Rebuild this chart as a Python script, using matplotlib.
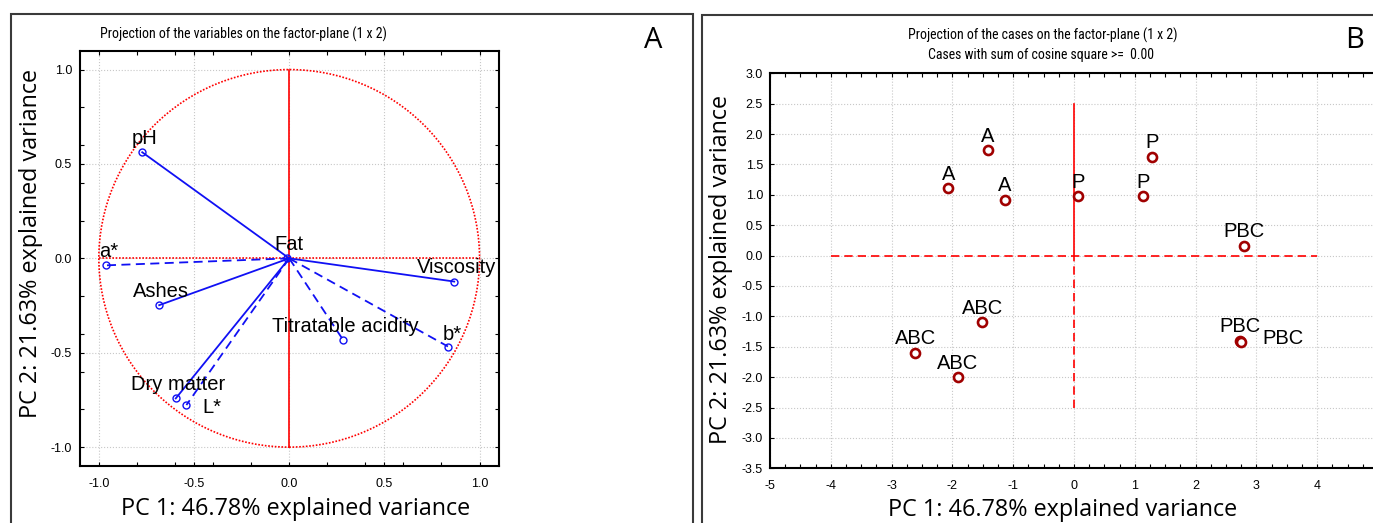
import numpy as np
import matplotlib

matplotlib.use("Agg")
import matplotlib.pyplot as plt
from matplotlib import font_manager
from matplotlib.patches import Circle, Rectangle
from matplotlib.ticker import MultipleLocator, FormatStrFormatter

# Factor coordinates of the variables (PC1, PC2)
var_names = ["pH", "a*", "Fat", "Ashes", "Dry matter", "L*",
             "Titratable acidity", "Viscosity", "b*"]
var_pc1 = [-0.772, -0.960, -0.010, -0.683, -0.596, -0.540, 0.285, 0.867, 0.834]
var_pc2 = [0.562, -0.037, 0.000, -0.248, -0.742, -0.777, -0.435, -0.123, -0.467]
var_dashed = [False, True, False, False, False, True, True, False, True]

# Factor scores of the cases
case_names = ["A", "A", "A", "P", "P", "P", "PBC", "PBC", "PBC", "ABC", "ABC", "ABC"]
case_pc1 = [-1.42, -2.07, -1.14, 0.06, 1.29, 1.14, 2.80, 2.73, 2.75, -1.51, -2.61, -1.91]
case_pc2 = [1.73, 1.11, 0.92, 0.98, 1.63, 0.98, 0.16, -1.40, -1.42, -1.10, -1.60, -2.00]

x_title = "PC 1: 46.78% explained variance"
y_title = "PC 2: 21.63% explained variance"

available = {f.name for f in font_manager.fontManager.ttflist}
ARIAL = "Liberation Sans"
LABEL = "Open Sans" if "Open Sans" in available else "DejaVu Sans"
NARROW, TITLE_SIZE = ARIAL, 8.9
for cand in ["Liberation Sans Narrow", "Arial Narrow", "Roboto Condensed"]:
    if cand in available:
        NARROW, TITLE_SIZE = cand, 10
        break

plt.rcParams["font.family"] = [ARIAL, "DejaVu Sans"]
plt.rcParams["axes.unicode_minus"] = False

BLUE = "#1010f4"
DARKRED = "#a00000"
GRID = "#c8c8c8"

W, H = 1373, 523
fig = plt.figure(figsize=(W / 100, H / 100), dpi=100)

# panel frames
fig.add_artist(Rectangle((11 / W, -0.05), (693 - 11) / W, 1.05 - 14 / H,
                         transform=fig.transFigure, fill=False,
                         ec="#3a3a3a", lw=1.5))
fig.add_artist(Rectangle((702 / W, -0.05), 1.1, 1.05 - 15 / H,
                         transform=fig.transFigure, fill=False,
                         ec="#3a3a3a", lw=1.5))


def style_axes(ax, xpad, ypad):
    ax.grid(True, color=GRID, ls=":", lw=0.8)
    ax.set_axisbelow(True)
    for sp in ax.spines.values():
        sp.set_linewidth(1.5)
    ax.tick_params(which="both", direction="in", top=True, right=True,
                   length=3, width=0.8, labelsize=9)
    ax.tick_params(axis="x", pad=xpad)
    ax.tick_params(axis="y", pad=ypad)


# ---- A: variables on the factor plane
ax1 = fig.add_axes([79.8 / W, 1 - 466 / H, (498.6 - 79.8) / W, (466 - 50.7) / H])
ax1.set_xlim(-1.1, 1.1)
ax1.set_ylim(-1.1, 1.1)
ax1.xaxis.set_major_locator(MultipleLocator(0.5))
ax1.yaxis.set_major_locator(MultipleLocator(0.5))
ax1.xaxis.set_minor_locator(MultipleLocator(0.2))
ax1.yaxis.set_minor_locator(MultipleLocator(0.2))
ax1.xaxis.set_major_formatter(FormatStrFormatter("%.1f"))
ax1.yaxis.set_major_formatter(FormatStrFormatter("%.1f"))

ax1.add_patch(Circle((0, 0), 1, fill=False, ec="red", ls=(0, (1, 1)), lw=1.2))
ax1.plot([-1, 1], [0, 0], color="red", ls=(0, (1, 1)), lw=1.2)
ax1.plot([0, 0], [-1, 1], color="red", lw=1.2)

nudge_var = {"L*": (18, -1.5), "b*": (3, 8.5)}
for name, x, y, dashed in zip(var_names, var_pc1, var_pc2, var_dashed):
    ax1.plot([0, x], [0, y], color=BLUE, lw=1.3,
             ls=(0, (5, 3)) if dashed else "-")
    ax1.plot(x, y, "o", mfc="none", mec=BLUE, ms=5, mew=1.0)
    dx, dy = nudge_var.get(name, (1.5, 10))
    ax1.annotate(name, (x, y), xytext=(dx, dy), textcoords="offset points",
                 ha="center", va="center", fontsize=14.5)
style_axes(ax1, 8.5, 5.5)

# ---- B: cases on the factor plane
ax2 = fig.add_axes([770 / W, 1 - 468.3 / H, (1378 - 770) / W, (468.3 - 73.3) / H])
ax2.set_xlim(-5, 5)
ax2.set_ylim(-3.5, 3.0)
ax2.xaxis.set_major_locator(MultipleLocator(1))
ax2.xaxis.set_minor_locator(MultipleLocator(0.25))
ax2.yaxis.set_major_locator(MultipleLocator(0.5))
ax2.xaxis.set_major_formatter(FormatStrFormatter("%d"))
ax2.yaxis.set_major_formatter(FormatStrFormatter("%.1f"))

ax2.plot([-4, 4], [0, 0], color="red", ls=(0, (5, 3)), lw=1.2)
ax2.plot([0, 0], [0, 2.5], color="red", lw=1.2)
ax2.plot([0, 0], [-2.5, 0], color="red", ls=(0, (5, 3)), lw=1.2)

nudge_case = {8: (30, 2.7)}
for i, (name, x, y) in enumerate(zip(case_names, case_pc1, case_pc2)):
    ax2.plot(x, y, "o", mfc="white", mec=DARKRED, ms=6.5, mew=1.9)
    dx, dy = nudge_case.get(i, (0, 10))
    ax2.annotate(name, (x, y), xytext=(dx, dy), textcoords="offset points",
                 ha="center", va="center", fontsize=14.5)
style_axes(ax2, 8.5, 5)

# ---- titles, axis titles and panel letters
fig.text(243 / W, 1 - 34 / H, "Projection of the variables on the factor-plane (1 x 2)",
         ha="center", va="center", fontsize=TITLE_SIZE, family=NARROW)
fig.text(1043 / W, 1 - 35 / H, "Projection of the cases on the factor-plane (1 x 2)",
         ha="center", va="center", fontsize=TITLE_SIZE, family=NARROW)
fig.text(1041 / W, 1 - 55 / H, "Cases with sum of cosine square >=  0.00",
         ha="center", va="center", fontsize=TITLE_SIZE, family=NARROW)

fig.text(296 / W, 1 - 515 / H, x_title, ha="center", va="baseline",
         fontsize=16.8, family=LABEL)
fig.text(1063 / W, 1 - 516 / H, x_title, ha="center", va="baseline",
         fontsize=16.8, family=LABEL)
fig.text(37 / W, 1 - 243 / H, y_title, ha="center", va="baseline", rotation=90,
         rotation_mode="anchor", fontsize=16.8, family=LABEL)
fig.text(727 / W, 1 - 269 / H, y_title, ha="center", va="baseline", rotation=90,
         rotation_mode="anchor", fontsize=16.8, family=LABEL)

fig.text(653 / W, 1 - 40 / H, "A", ha="center", va="center", fontsize=21, family=LABEL)
fig.text(1355 / W, 1 - 40 / H, "B", ha="center", va="center", fontsize=21, family=LABEL)

fig.savefig("out.png", dpi=100)
